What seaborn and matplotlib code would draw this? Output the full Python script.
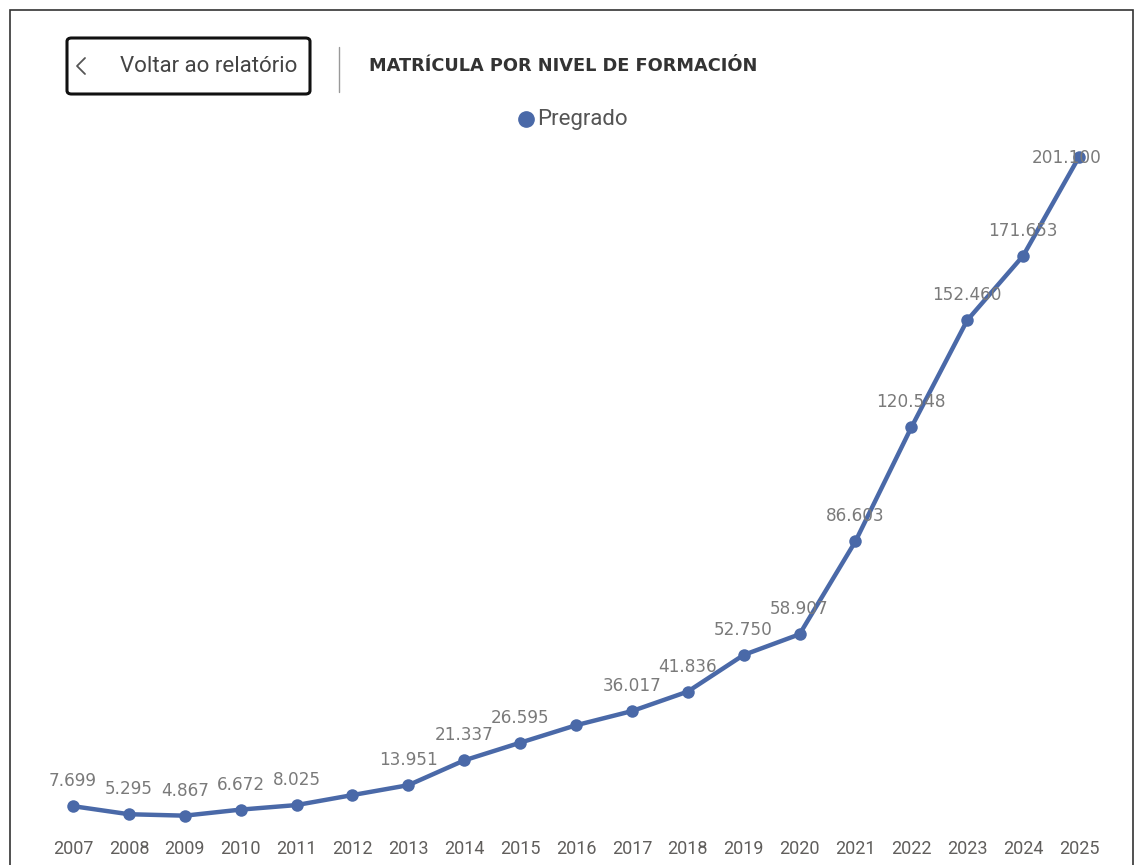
import matplotlib
matplotlib.use("Agg")
import matplotlib.pyplot as plt
import seaborn as sns
import pandas as pd
from matplotlib.patches import FancyBboxPatch, Rectangle
from matplotlib.lines import Line2D

years = [2007, 2008, 2009, 2010, 2011, 2012, 2013, 2014, 2015, 2016,
         2017, 2018, 2019, 2020, 2021, 2022, 2023, 2024, 2025]
pregrado = [7699, 5295, 4867, 6672, 8025, 11000, 13951, 21337, 26595, 31800,
            36017, 41836, 52750, 58907, 86603, 120548, 152460, 171653, 201100]
# Power BI hid these labels (overlap)
hidden_labels = [2012, 2016]
series_name = "Pregrado"
title = "MATRÍCULA POR NIVEL DE FORMACIÓN"
button_text = "Voltar ao relatório"

df = pd.DataFrame({"year": [str(y) for y in years], "value": pregrado})

sns.set_theme(style="white")
plt.rcParams["font.family"] = ["DejaVu Sans"]

W, H = 1143, 865
fig = plt.figure(figsize=(W / 100, H / 100), dpi=100)

def fx(px):
    return px / W

def fy(py):
    return (H - py) / H

color = "#4a69a8"
# axes: x index 0 at px 73, 18 at px 1079; y 0 at px 832, 201100 at px 157
ax = fig.add_axes([fx(73), fy(832), fx(1079) - fx(73), fy(157) - fy(832)])
sns.lineplot(data=df, x="year", y="value", ax=ax, color=color, linewidth=3.2,
             marker="o", markersize=9, markeredgewidth=0, sort=False, clip_on=False)
ax.set_xlim(0, len(years) - 1)
ax.set_ylim(0, 201100)
for s in ax.spines.values():
    s.set_visible(False)
ax.set_yticks([])
ax.set_xlabel("")
ax.set_ylabel("")
ax.tick_params(axis="x", length=0, pad=6, labelsize=13, labelcolor="#605e5c")
for lbl in ax.get_xticklabels():
    lbl.set_fontfamily("Roboto")
ax.patch.set_alpha(0)
for line in ax.lines:
    line.set_clip_on(False)

def fmt(v):
    return f"{v:,}".replace(",", ".")

for i, (y, v) in enumerate(zip(years, pregrado)):
    if y in hidden_labels:
        continue
    last = i == len(years) - 1
    off = (-9, -1) if last else (0, 18)
    ax.annotate(fmt(v), (i, v), xytext=off, textcoords="offset points",
                ha="center", va="center", fontsize=12.2, color="#7a7a7a",
                annotation_clip=False)

# legend
fig.lines.append(Line2D([fx(526)], [fy(119)], marker="o", markersize=11,
                        color=color, linestyle="", transform=fig.transFigure))
fig.text(fx(537), fy(120), series_name, fontsize=16, color="#555555",
         va="center", ha="left", family="Roboto")

# outer border
fig.patches.append(Rectangle((fx(10), fy(880)), fx(1133) - fx(10), fy(10) - fy(880),
                             transform=fig.transFigure, fill=False,
                             edgecolor="#333333", linewidth=1.2))

# button
fig.patches.append(FancyBboxPatch((fx(67), fy(94)), fx(310) - fx(67), fy(38) - fy(94),
                                  boxstyle="round,pad=0,rounding_size=0.004",
                                  transform=fig.transFigure, fill=False,
                                  edgecolor="#111111", linewidth=2.2))
fig.lines.append(Line2D([fx(85), fx(77), fx(85)], [fy(58), fy(66), fy(74)],
                        color="#555555", linewidth=1.3, transform=fig.transFigure))
fig.text(fx(120), fy(66), button_text, fontsize=16, color="#444444",
         va="center", ha="left", family="Roboto")

# separator
fig.lines.append(Line2D([fx(339), fx(339)], [fy(47), fy(92)], color="#999999",
                        linewidth=1, transform=fig.transFigure))

# title
fig.text(fx(369), fy(66), title, fontsize=12.8, fontweight="bold", color="#333333",
         va="center", ha="left", family="DejaVu Sans")

fig.savefig("out.png", dpi=100, facecolor="white")
